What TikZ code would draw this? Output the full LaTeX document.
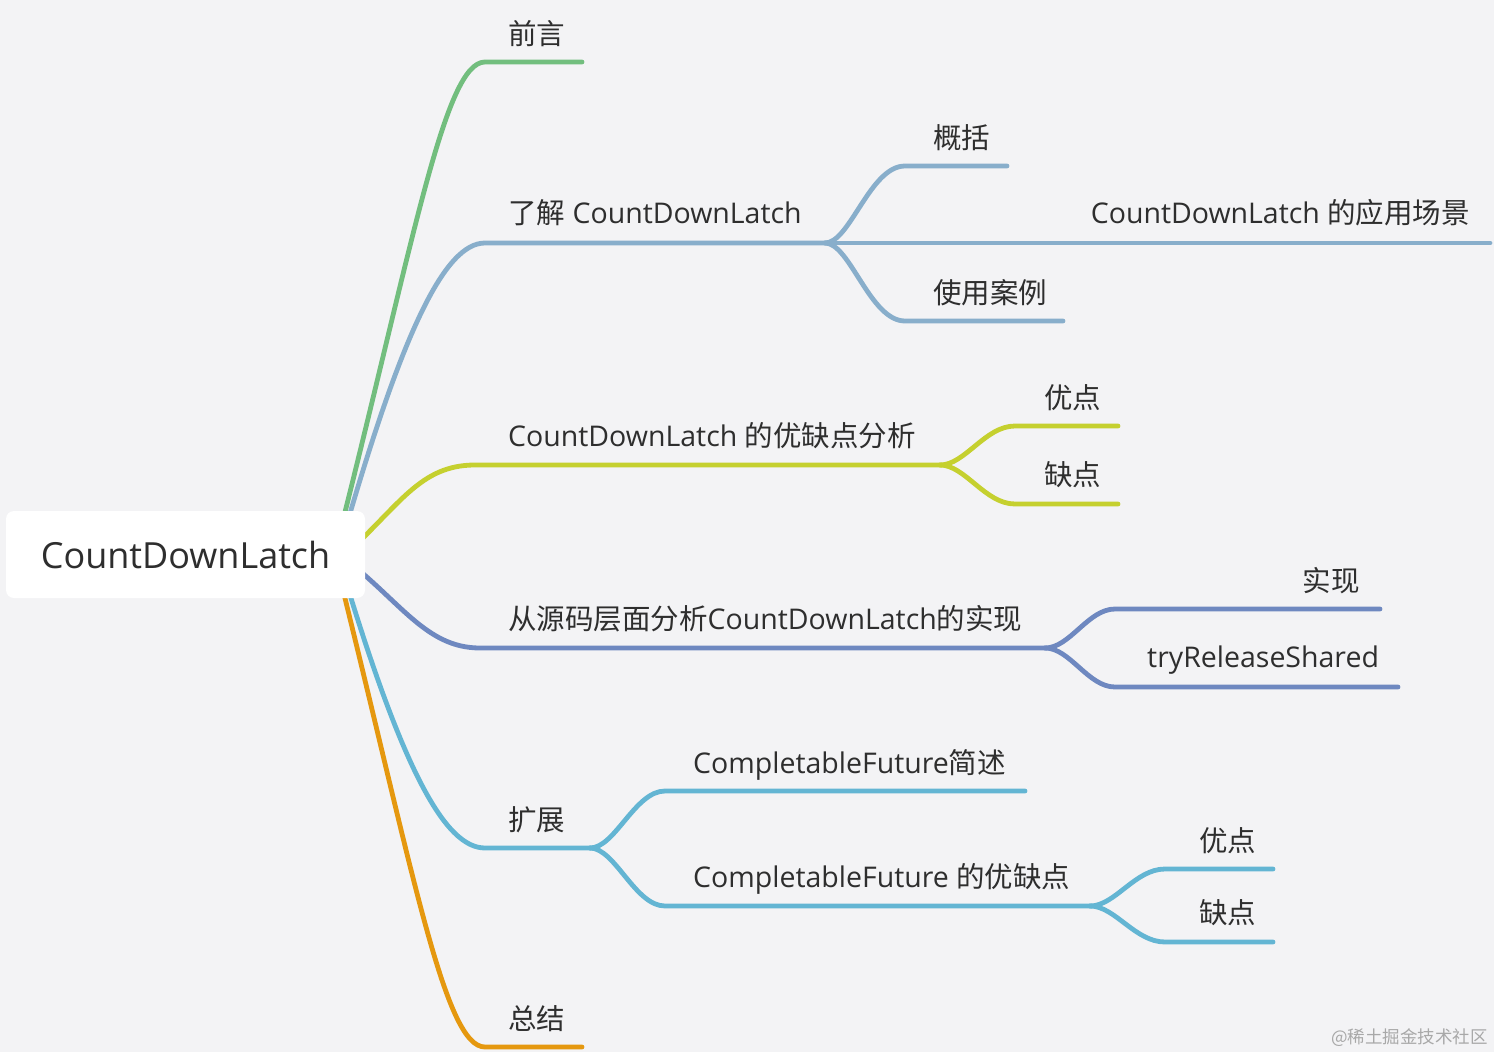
\documentclass[tikz,border=0pt]{standalone}
\usepackage{fontspec}
\setmainfont{Open Sans}
\newfontfamily\cjk{Noto Sans CJK SC}
\definecolor{bg}{HTML}{F3F3F5}
\definecolor{txt}{HTML}{2E2E2E}
\definecolor{cg}{HTML}{72BE7E}
\definecolor{cb}{HTML}{88AECB}
\definecolor{cy}{HTML}{C5D02F}
\definecolor{cp}{HTML}{6E88C0}
\definecolor{cc}{HTML}{63B5D3}
\definecolor{co}{HTML}{E5980F}
\definecolor{wm}{HTML}{A8A8A8}
\tikzset{
  br/.style={line width=4.8pt, line cap=round, line join=round},
  lbl/.style={anchor=base west, inner sep=0pt, text=txt, font=\fontsize{28.5}{34}\selectfont},
  rootbox/.style={fill=white, rounded corners=8pt, minimum width=359pt, minimum height=87pt, inner sep=0pt, text=txt, font=\fontsize{36}{42}\selectfont}
}
\begin{document}
\begin{tikzpicture}[x=1pt,y=-1pt]
\fill[bg] (0,0) rectangle (1494,1052);
\useasboundingbox (0,0) rectangle (1494,1052);

% ---- main branches ----
\coordinate (g0) at (338,540); \coordinate (g1) at (485,62); \coordinate (g2) at (582,62);
\draw[br,cg] (g0) .. controls (415,235) and (445,62) .. (g1) -- (g2);

\coordinate (b0) at (340,548); \coordinate (b1) at (485,243); \coordinate (bf) at (825,243);
\draw[br,cb] (b0) .. controls (402,330) and (445,243) .. (b1) -- (bf);

\coordinate (y0) at (345,555); \coordinate (y1) at (475,465); \coordinate (yf) at (940,465);
\draw[br,cy] (y0) .. controls (400,505) and (420,465) .. (y1) -- (yf);

\coordinate (p0) at (340,555); \coordinate (p1) at (480,648); \coordinate (pf) at (1045,648);
\draw[br,cp] (p0) .. controls (400,600) and (425,648) .. (p1) -- (pf);

\coordinate (c0) at (340,562); \coordinate (c1) at (485,848); \coordinate (cf) at (590,848);
\draw[br,cc] (c0) .. controls (402,770) and (445,848) .. (c1) -- (cf);

\coordinate (o0) at (338,570); \coordinate (o1) at (485,1047); \coordinate (o2) at (582,1047);
\draw[br,co] (o0) .. controls (415,880) and (445,1047) .. (o1) -- (o2);

% ---- sub branches: 了解 ----
\coordinate (b11) at (905,166); \coordinate (b12) at (1007,166);
\draw[br,cb] (bf) .. controls (850,243) and (870,166) .. (b11) -- (b12);
\coordinate (b22) at (1490,243);
\draw[br,cb] (bf) -- (b22);
\coordinate (b31) at (905,321); \coordinate (b32) at (1063,321);
\draw[br,cb] (bf) .. controls (850,243) and (870,321) .. (b31) -- (b32);

% ---- sub branches: 优缺点 ----
\coordinate (y11) at (1015,426); \coordinate (y12) at (1118,426);
\draw[br,cy] (yf) .. controls (965,465) and (985,426) .. (y11) -- (y12);
\coordinate (y21) at (1015,504); \coordinate (y22) at (1118,504);
\draw[br,cy] (yf) .. controls (965,465) and (985,504) .. (y21) -- (y22);

% ---- sub branches: 源码 ----
\coordinate (p11) at (1115,609); \coordinate (p12) at (1380,609);
\draw[br,cp] (pf) .. controls (1070,648) and (1088,609) .. (p11) -- (p12);
\coordinate (p21) at (1115,687); \coordinate (p22) at (1398,687);
\draw[br,cp] (pf) .. controls (1070,648) and (1088,687) .. (p21) -- (p22);

% ---- sub branches: 扩展 ----
\coordinate (c11) at (665,791); \coordinate (c12) at (1025,791);
\draw[br,cc] (cf) .. controls (615,848) and (635,791) .. (c11) -- (c12);
\coordinate (c21) at (665,906); \coordinate (c2f) at (1090,906);
\draw[br,cc] (cf) .. controls (615,848) and (635,906) .. (c21) -- (c2f);
\coordinate (c211) at (1165,869); \coordinate (c212) at (1273,869);
\draw[br,cc] (c2f) .. controls (1115,906) and (1135,869) .. (c211) -- (c212);
\coordinate (c221) at (1165,942); \coordinate (c222) at (1273,942);
\draw[br,cc] (c2f) .. controls (1115,906) and (1135,942) .. (c221) -- (c222);

% ---- root ----
\node[rootbox] (root) at (185.5,554.5) {CountDownLatch};

% ---- labels ----
\node[lbl] (n1) at (508,44) {\cjk 前言};
\node[lbl] (n2) at (508,223) {{\cjk 了解} CountDownLatch};
\node[lbl] (n21) at (933,148) {\cjk 概括};
\node[lbl,anchor=base east] (n22) at (1470,223) {CountDownLatch {\cjk 的应用场景}};
\node[lbl] (n23) at (933,303) {\cjk 使用案例};
\node[lbl] (n3) at (508,446) {CountDownLatch {\cjk 的优缺点分析}};
\node[lbl] (n31) at (1044,408) {\cjk 优点};
\node[lbl] (n32) at (1044,485) {\cjk 缺点};
\node[lbl] (n4) at (508,629) {{\cjk 从源码层面分析}CountDownLatch{\cjk 的实现}};
\node[lbl,anchor=base east] (n41) at (1360,591) {\cjk 实现};
\node[lbl] (n42) at (1147,667) {tryReleaseShared};
\node[lbl] (n5) at (508,830) {\cjk 扩展};
\node[lbl] (n51) at (693,773) {CompletableFuture{\cjk 简述}};
\node[lbl] (n52) at (693,887) {CompletableFuture {\cjk 的优缺点}};
\node[lbl] (n521) at (1199,851) {\cjk 优点};
\node[lbl] (n522) at (1199,923) {\cjk 缺点};
\node[lbl] (n6) at (508,1029) {\cjk 总结};

% ---- watermark ----
\node[anchor=base east, inner sep=0pt, text=wm, font=\cjk\fontsize{17.5}{20}\selectfont] (wmk) at (1488,1043) {@稀土掘金技术社区};
\end{tikzpicture}
\end{document}
